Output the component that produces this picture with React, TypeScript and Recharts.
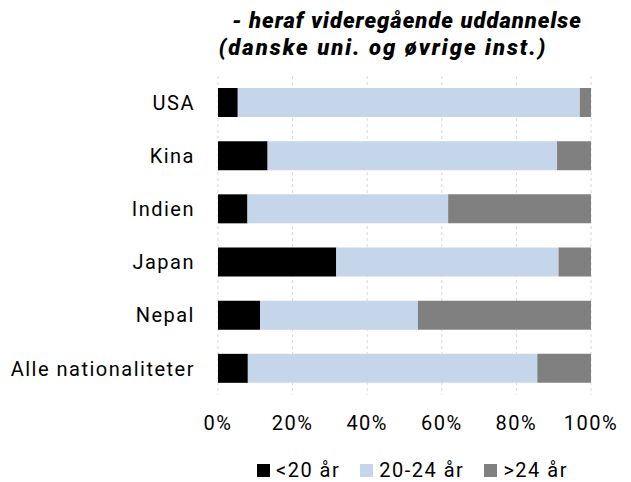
import React from 'react';
import { BarChart, Bar, XAxis, YAxis, CartesianGrid, Legend } from 'recharts';

const categories = ['USA', 'Kina', 'Indien', 'Japan', 'Nepal', 'Alle nationaliteter'];
const under20 = [5.3, 13.3, 7.9, 31.7, 11.3, 8.0];
const age20to24 = [91.7, 77.6, 53.8, 59.6, 42.3, 77.6];
const over24 = [3.0, 9.1, 38.3, 8.7, 46.4, 14.4];
const xTicks = [0, 20, 40, 60, 80, 100];
const seriesNames = ['<20 år', '20-24 år', '>24 år'];
const titleLines = ['- heraf videregående uddannelse', '(danske uni. og øvrige inst.)'];

const colors = ['#000000', '#c5d5ea', '#808080'];
const font = 'Roboto, "DejaVu Sans", sans-serif';

const data = categories.map((name, i) => ({
  name,
  a: under20[i],
  b: age20to24[i],
  c: over24[i],
}));

// legend drawn by hand so the squares and gaps match the reference
const renderLegend = () => (
  <div style={{ display: 'flex', alignItems: 'center', paddingLeft: 257, fontFamily: font, fontSize: 20, letterSpacing: 1.5, color: '#000' }}>
    {seriesNames.map((s, i) => (
      <div key={s} style={{ display: 'flex', alignItems: 'center', marginRight: 20 }}>
        <span style={{ display: 'inline-block', width: 13, height: 13, background: colors[i], marginRight: 6 }} />
        <span>{s}</span>
      </div>
    ))}
  </div>
);

export default function App() {
  return (
    <div style={{ position: 'absolute', left: 0, top: 0, width: 631, height: 482, background: '#fff' }}>
      <svg width={631} height={70} style={{ position: 'absolute', left: 0, top: 0 }}>
        <text x={407} y={28} textAnchor="middle" fontFamily={font} fontSize={22} fontWeight={900} fontStyle="italic" letterSpacing={1} fill="#000">
          {titleLines[0]}
        </text>
        <text x={383} y={55} textAnchor="middle" fontFamily={font} fontSize={22} fontWeight={900} fontStyle="italic" letterSpacing={2} fill="#000">
          {titleLines[1]}
        </text>
      </svg>
      <BarChart
        width={631}
        height={482}
        data={data}
        layout="vertical"
        margin={{ top: 76, right: 40, left: 0, bottom: 57 }}
        barSize={29}
      >
        <CartesianGrid horizontal={false} stroke="#d9d9d9" strokeDasharray="3 3" />
        <XAxis
          type="number"
          domain={[0, 100]}
          ticks={xTicks}
          tickFormatter={(v) => `${v}%`}
          axisLine={false}
          tickLine={false}
          tickSize={0}
          tickMargin={21}
          height={30}
          tick={{ fill: '#000', fontSize: 20, fontFamily: font, letterSpacing: 1.5 }}
        />
        <YAxis
          type="category"
          dataKey="name"
          width={218}
          axisLine={false}
          tickLine={false}
          tickSize={0}
          tickMargin={23}
          tick={{ fill: '#000', fontSize: 20, fontFamily: font, letterSpacing: 1.5 }}
        />
        <Legend
          layout="vertical"
          verticalAlign="bottom"
          align="center"
          content={renderLegend}
          wrapperStyle={{ left: 0, width: 631, height: 0, overflow: 'visible', top: 458, bottom: 'auto' }}
        />
        <Bar dataKey="a" name={seriesNames[0]} stackId="s" fill={colors[0]} isAnimationActive={false} />
        <Bar dataKey="b" name={seriesNames[1]} stackId="s" fill={colors[1]} isAnimationActive={false} />
        <Bar dataKey="c" name={seriesNames[2]} stackId="s" fill={colors[2]} isAnimationActive={false} />
      </BarChart>
    </div>
  );
}
